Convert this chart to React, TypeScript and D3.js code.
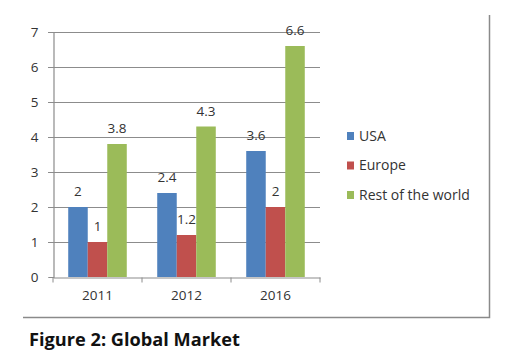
import React, { useEffect, useRef } from 'react'
import * as d3 from 'd3'

const years = ['2011', '2012', '2016']
const seriesNames = ['USA', 'Europe', 'Rest of the world']
const usa = [2, 2.4, 3.6]
const europe = [1, 1.2, 2]
const restOfWorld = [3.8, 4.3, 6.6]
const yTicks = [0, 1, 2, 3, 4, 5, 6, 7]
const colors = ['#4F81BD', '#C0504D', '#9BBB59']

function drawChart(el: SVGSVGElement) {
  const svg = d3.select(el)
  svg.selectAll('*').remove()

  const values = [usa, europe, restOfWorld]
  const left = 53, right = 320, top = 32, bottom = 277
  const font = 'Open Sans, sans-serif'

  const x = d3.scaleBand().domain(years).range([left, right]).paddingInner(0).paddingOuter(0)
  const xs = d3.scaleBand().domain(seriesNames).range([0, x.bandwidth()]).paddingInner(0).paddingOuter(0.78)
  const y = d3.scaleLinear().domain([0, 7]).range([bottom, top])

  // frame (right and bottom edges only)
  svg.append('path')
    .attr('d', `M489.5,15 V317.5 H23`)
    .attr('fill', 'none').attr('stroke', '#8a8a8a').attr('stroke-width', 1.5)

  // grid
  svg.append('g').selectAll('line').data(yTicks.filter(t => t > 0)).join('line')
    .attr('x1', left - 5).attr('x2', right)
    .attr('y1', d => Math.round(y(d)) + 0.5).attr('y2', d => Math.round(y(d)) + 0.5)
    .attr('stroke', '#8c8c8c').attr('stroke-width', 1.2)

  // bars
  const groups = svg.append('g').selectAll('g').data(years).join('g')
    .attr('transform', d => `translate(${x(d)},0)`)
  groups.selectAll('rect').data((d, i) => seriesNames.map((s, j) => ({ s, j, v: values[j][i] }))).join('rect')
    .attr('x', d => xs(d.s)!)
    .attr('width', xs.bandwidth())
    .attr('y', d => y(d.v))
    .attr('height', d => y(0) - y(d.v))
    .attr('fill', d => colors[d.j])

  groups.selectAll('text').data((d, i) => seriesNames.map((s, j) => ({ s, j, v: values[j][i] }))).join('text')
    .attr('x', d => xs(d.s)! + xs.bandwidth() / 2)
    .attr('y', d => y(d.v) - 11)
    .attr('text-anchor', 'middle')
    .attr('font-family', font).attr('font-size', 13.5)
    .attr('fill', '#333')
    .text(d => String(d.v))

  // y axis
  const yAxis = svg.append('g').attr('transform', `translate(${left + 0.5},0)`)
    .call(d3.axisLeft(y).tickValues(yTicks).tickSize(5).tickPadding(10).tickFormat(d3.format('d')))
  yAxis.select('.domain').attr('stroke', '#8c8c8c').attr('stroke-width', 1.2)
  yAxis.selectAll('.tick line').attr('stroke', '#8c8c8c')
  yAxis.selectAll('text').attr('font-family', font).attr('font-size', 13.5).attr('fill', '#333')

  // x axis
  const xAxis = svg.append('g').attr('transform', `translate(0,${bottom + 0.5})`)
    .call(d3.axisBottom(x).tickSize(0).tickPadding(13))
  xAxis.select('.domain').attr('stroke', '#8c8c8c').attr('stroke-width', 1.2)
  xAxis.selectAll('text').attr('font-family', font).attr('font-size', 13.5).attr('fill', '#333')
  xAxis.append('g').selectAll('line').data([...years.map(d => x(d)!), right]).join('line')
    .attr('x1', d => d).attr('x2', d => d).attr('y1', 0).attr('y2', 5)
    .attr('stroke', '#8c8c8c')

  // legend
  const legend = svg.append('g').selectAll('g').data(seriesNames).join('g')
    .attr('transform', (d, i) => `translate(347,${136 + i * 29.5})`)
  legend.append('rect').attr('x', 0).attr('y', -4).attr('width', 7).attr('height', 8)
    .attr('fill', (d, i) => colors[i])
  legend.append('text').attr('x', 12).attr('y', 0).attr('dy', '0.35em')
    .attr('font-family', font).attr('font-size', 14).attr('fill', '#333')
    .text(d => d)

  // caption
  svg.append('text').attr('x', 29).attr('y', 346)
    .attr('font-family', font).attr('font-weight', 'bold').attr('font-size', 18.2)
    .attr('fill', '#111')
    .text('Figure 2: Global Market')
}

export default function App() {
  const ref = useRef<SVGSVGElement>(null)
  useEffect(() => {
    if (ref.current) drawChart(ref.current)
  })
  return (
    <svg ref={ref} width={519} height={362}
      style={{ position: 'absolute', left: 0, top: 0, background: '#fff' }} />
  )
}
